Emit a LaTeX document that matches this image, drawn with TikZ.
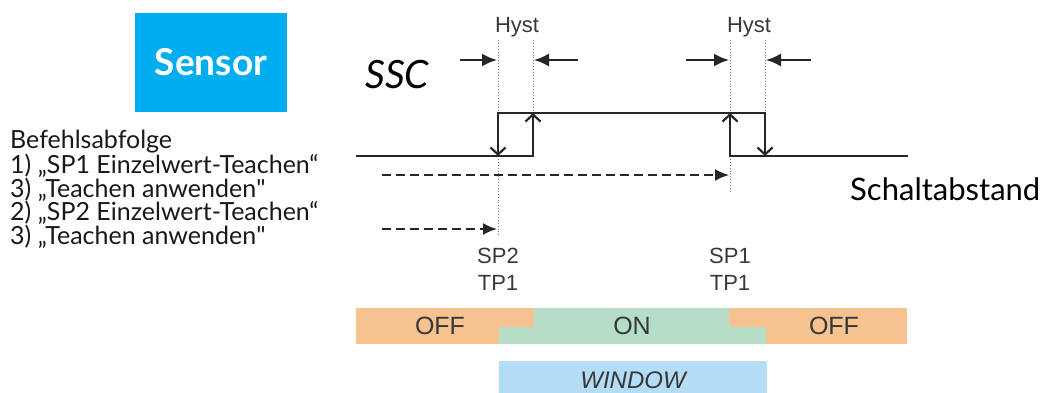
\documentclass[tikz,border=0pt]{standalone}
\usepackage{fontspec}
\setmainfont{Lato}
\newfontfamily\arialfont{Liberation Sans}
\usetikzlibrary{arrows.meta}
\definecolor{sensorblue}{HTML}{00ADEE}
\definecolor{offorange}{HTML}{F6C390}
\definecolor{ongreen}{HTML}{B5DDC7}
\definecolor{windowblue}{HTML}{B3DDF6}
\definecolor{labelgray}{HTML}{383838}
\tikzset{
signal/.style={line width=2.2pt,black!85,line cap=rect},
edge/.style={line width=2.2pt,black!85,-{Straight Barb[length=7pt,width=15pt]}},
guide/.style={black!55,line width=0.9pt,dotted},
hystarrow/.style={-{Latex[length=15pt,width=13pt]},line width=2pt,black!85},
teacharrow/.style={-{Latex[length=14pt,width=12pt]},line width=2pt,black!85,dash pattern=on 9pt off 5pt},
tplabel/.style={font=\arialfont\fontsize{22}{27}\selectfont,text=labelgray,inner sep=0pt,align=center},
zonelabel/.style={font=\arialfont\fontsize{25}{25}\selectfont,text=labelgray,inner sep=0pt}
}
\begin{document}
\begin{tikzpicture}[x=1pt,y=-1pt]
\useasboundingbox (0,0) rectangle (1052,392);
% sensor box and text
\node[fill=sensorblue,minimum width=152pt,minimum height=99pt,inner sep=0pt,text=white,font=\bfseries\fontsize{37}{37}\selectfont] (sensor) at (211,62) {Sensor};
\node[anchor=base west,align=left,inner sep=0pt,text=black!90,font=\fontsize{25}{23.5}\selectfont] (steps) at (10,244)
  {Befehlsabfolge\\1) „SP1 Einzelwert-Teachen“\\3) „Teachen anwenden\textquotedbl\\2) „SP2 Einzelwert-Teachen“\\3) „Teachen anwenden\textquotedbl};
\node[anchor=base west,inner sep=0pt,font=\itshape\fontsize{39}{39}\selectfont] (ssc) at (365,88) {SSC};
\node[anchor=base west,inner sep=0pt,font=\fontsize{31}{31}\selectfont] (dist) at (850,200) {Schaltabstand};
% guide lines
\coordinate (sp2) at (498,156);
\coordinate (sp2h) at (533,156);
\coordinate (sp1) at (730,156);
\coordinate (sp1h) at (765,156);
\draw[guide] (498,40) -- (498,236);
\draw[guide] (533,40) -- (533,113);
\draw[guide] (730,40) -- (730,193);
\draw[guide] (765,40) -- (765,113);
% hysteresis
\node[tplabel] (hyst1) at (517,27) {Hyst};
\node[tplabel] (hyst2) at (749,27) {Hyst};
\draw[hystarrow] (460,60) -- (497,60);
\draw[hystarrow] (578,60) -- (534,60);
\draw[hystarrow] (686,60) -- (729,60);
\draw[hystarrow] (811,60) -- (766,60);
% switching curve
\draw[signal] (357,156) -- (sp2h);
\draw[edge] (sp2h) -- (533,113);
\draw[signal] (498,113) -- (765,113);
\draw[edge] (498,113) -- (sp2);
\draw[signal] (907,156) -- (sp1);
\draw[edge] (sp1) -- (730,113);
\draw[edge] (765,113) -- (sp1h);
% teach sequence
\coordinate (t1) at (382,175);
\coordinate (t2) at (382,229);
\draw[teacharrow] (t1) -- (729,175);
\draw[teacharrow] (t2) -- (497,229);
\node[tplabel] (sp2lbl) at (498,269) {SP2\\TP1};
\node[tplabel] (sp1lbl) at (730,269) {SP1\\TP1};
% output bar
\fill[offorange] (356,308) rectangle (907,344);
\fill[ongreen] (534,308) -- (729,308) -- (729,327) -- (766,327) -- (766,344) -- (499,344) -- (499,327) -- (534,327) -- cycle;
\node[zonelabel] (off1) at (440,326) {OFF};
\node[zonelabel] (on) at (632,326) {ON};
\node[zonelabel] (off2) at (834,326) {OFF};
\fill[windowblue] (499,361) rectangle (767,393);
\node[zonelabel,font=\arialfont\itshape\fontsize{24}{24}\selectfont] (window) at (633,380) {WINDOW};
\end{tikzpicture}
\end{document}
